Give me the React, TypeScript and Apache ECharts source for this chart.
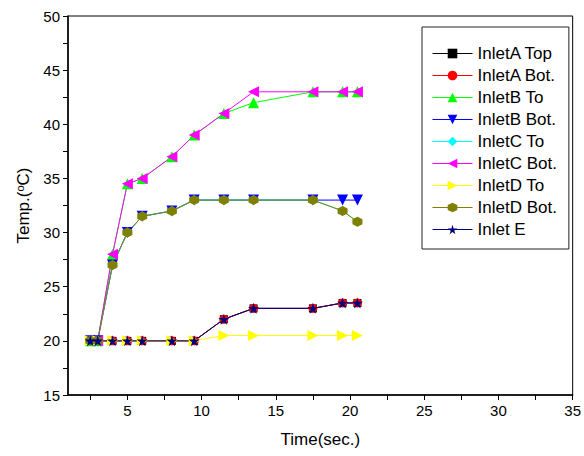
import React, { useEffect, useRef } from "react";
import * as echarts from "echarts";

const time = [2.5, 3, 4, 5, 6, 8, 9.5, 11.5, 13.5, 17.5, 19.5, 20.5];
const inletATop = [20, 20, 20, 20, 20, 20, 20, 22, 23, 23, 23.5, 23.5];
const inletABot = [20, 20, 20, 20, 20, 20, 20, 22, 23, 23, 23.5, 23.5];
const inletBTo = [20, 20, 28, 34.5, 35, 37, 39, 41, 42, 43, 43, 43];
const inletBBot = [20, 20, 27, 30, 31.5, 32, 33, 33, 33, 33, 33, 33];
const inletCTo = [20, 20, 27, 30, 31.5, 32, 33, 33, 33, 33, 32, 31];
const inletCBot = [20, 20, 28, 34.5, 35, 37, 39, 41, 43, 43, 43, 43];
const inletDTo = [20, 20, 20, 20, 20, 20, 20, 20.5, 20.5, 20.5, 20.5, 20.5];
const inletDBot = [20, 20, 27, 30, 31.5, 32, 33, 33, 33, 33, 32, 31];
const inletE = [20, 20, 20, 20, 20, 20, 20, 22, 23, 23, 23.5, 23.5];

const xTicks = [2.5, 5, 7.5, 10, 12.5, 15, 17.5, 20, 22.5, 25, 27.5, 30, 32.5, 35];
const xLabels = [5, 10, 15, 20, 25, 30, 35];
const yTicks = [15, 17.5, 20, 22.5, 25, 27.5, 30, 32.5, 35, 37.5, 40, 42.5, 45, 47.5, 50];
const yLabels = [15, 20, 25, 30, 35, 40, 45, 50];

const STAR = "path://M50,0 L61,35 L98,35 L68,57 L79,91 L50,70 L21,91 L32,57 L2,35 L39,35 Z";
const HEX = "path://M50,0 L93,25 L93,75 L50,100 L7,75 L7,25 Z";

const seriesDefs = [
  { name: "InletA Top", data: inletATop, color: "#000000", symbol: "rect", rotate: 0, size: 8 },
  { name: "InletA Bot.", data: inletABot, color: "#FF0000", symbol: "circle", rotate: 0, size: 9 },
  { name: "InletB To", data: inletBTo, color: "#00FF00", symbol: "triangle", rotate: 0, size: 11 },
  { name: "InletB Bot.", data: inletBBot, color: "#0000FF", symbol: "triangle", rotate: 180, size: 11 },
  { name: "InletC To", data: inletCTo, color: "#00FFFF", symbol: "diamond", rotate: 0, size: 10 },
  { name: "InletC Bot.", data: inletCBot, color: "#FF00FF", symbol: "triangle", rotate: 90, size: 11 },
  { name: "InletD To", data: inletDTo, color: "#FFFF00", symbol: "triangle", rotate: -90, size: 11 },
  { name: "InletD Bot.", data: inletDBot, color: "#808000", symbol: HEX, rotate: 0, size: 10 },
  { name: "Inlet E", data: inletE, color: "#000080", symbol: STAR, rotate: 0, size: 11 },
];

const FONT = "Liberation Sans, Arial, sans-serif";

export default function App() {
  const ref = useRef<HTMLDivElement>(null);
  useEffect(() => {
    if (!ref.current) return;
    const chart = echarts.init(ref.current, null, { renderer: "svg" });
    chart.setOption({
      animation: false,
      backgroundColor: "#ffffff",
      grid: {
        left: 68,
        top: 16,
        width: 506,
        height: 379,
        show: true,
        borderColor: "#000",
        borderWidth: 1,
        backgroundColor: "transparent",
      },
      legend: {
        orient: "vertical",
        left: 422,
        top: 27,
        padding: [18, 12, 11, 10],
        itemWidth: 40,
        itemHeight: 12,
        itemGap: 5,
        borderColor: "#222",
        borderWidth: 1,
        backgroundColor: "#fff",
        symbolRotate: "inherit",
        lineStyle: { width: 1 },
        textStyle: { fontFamily: FONT, fontSize: 17, color: "#000" },
        data: seriesDefs.map((s) => s.name),
      },
      xAxis: {
        type: "value",
        min: 1,
        max: 35,
        name: "Time(sec.)",
        nameLocation: "middle",
        nameGap: 36,
        nameTextStyle: { fontFamily: FONT, fontSize: 17, color: "#000" },
        axisLine: { show: true, onZero: false, lineStyle: { color: "#000", width: 1.5 } },
        axisTick: { show: true, inside: false, length: 5, customValues: xTicks, lineStyle: { color: "#000" } },
        axisLabel: { customValues: xLabels, fontFamily: FONT, fontSize: 15, color: "#000", margin: 8 },
        splitLine: { show: false },
      },
      yAxis: {
        type: "value",
        min: 15,
        max: 50,
        name: "Temp.({sup|o}C)",
        nameLocation: "middle",
        nameGap: 30,
        nameRotate: 90,
        nameTextStyle: {
          fontFamily: FONT,
          fontSize: 17,
          color: "#000",
          rich: { sup: { fontFamily: FONT, fontSize: 11, color: "#000", verticalAlign: "top", padding: [0, 0, 8, 0] } },
        },
        axisLine: { show: true, onZero: false, lineStyle: { color: "#000", width: 1.5 } },
        axisTick: { show: true, inside: false, length: 5, customValues: yTicks, lineStyle: { color: "#000" } },
        axisLabel: { customValues: yLabels, fontFamily: FONT, fontSize: 15, color: "#000", margin: 8 },
        splitLine: { show: false },
      },
      series: seriesDefs.map((s) => ({
        name: s.name,
        type: "line",
        data: time.map((t, i) => [t, s.data[i]]),
        symbol: s.symbol,
        symbolSize: s.size,
        symbolRotate: s.rotate,
        showAllSymbol: true,
        lineStyle: { color: s.color, width: 1 },
        itemStyle: { color: s.color },
        emphasis: { disabled: true },
      })),
    });
    return () => chart.dispose();
  }, []);
  return <div ref={ref} style={{ width: 584, height: 456, position: "absolute", left: 0, top: 0 }} />;
}
